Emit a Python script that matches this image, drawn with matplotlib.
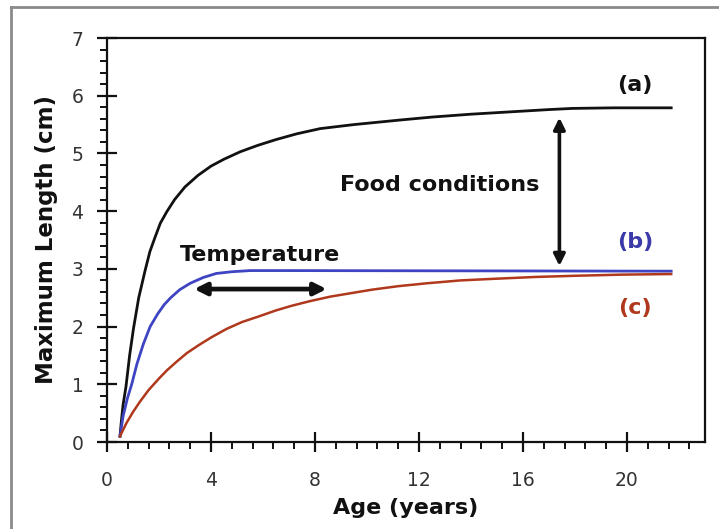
import matplotlib
matplotlib.use("Agg")
import matplotlib.pyplot as plt
from matplotlib.ticker import MultipleLocator
from matplotlib.lines import Line2D

plt.rcParams['font.family'] = ['DejaVu Sans']

# Data
age_a = [0.5, 0.55, 0.62, 0.73, 0.87, 1.02, 1.22, 1.47, 1.65, 1.85, 2.05, 2.3, 2.6, 3.0,
         3.5, 4.0, 4.5, 5.13, 5.8, 6.5, 7.3, 8.2, 9.5, 11.3, 12.5, 14.0, 15.5, 17.0, 17.9,
         19.5, 21.7]
len_a = [0.1, 0.35, 0.65, 0.96, 1.5, 1.97, 2.5, 2.98, 3.3, 3.55, 3.79, 3.99, 4.2, 4.42,
         4.62, 4.78, 4.9, 5.03, 5.14, 5.24, 5.34, 5.43, 5.5, 5.58, 5.63, 5.68, 5.72, 5.76, 5.78,
         5.79, 5.79]

age_b = [0.5, 0.62, 0.78, 0.95, 1.15, 1.4, 1.66, 1.95, 2.2, 2.45, 2.8, 3.2, 3.7, 4.2,
         4.8, 5.5, 7.0, 21.7]
len_b = [0.1, 0.45, 0.75, 1.0, 1.35, 1.7, 2.0, 2.22, 2.38, 2.5, 2.64, 2.75, 2.85, 2.92,
         2.95, 2.97, 2.97, 2.96]

age_c = [0.5, 0.75, 1.0, 1.27, 1.6, 2.0, 2.3, 2.7, 3.07, 3.5, 4.0, 4.6, 5.2, 5.8, 6.5,
         7.1, 7.8, 8.6, 9.4, 10.2, 11.2, 12.3, 13.6, 15.0, 16.5, 18.0, 19.8, 21.7]
len_c = [0.1, 0.33, 0.52, 0.7, 0.9, 1.1, 1.24, 1.4, 1.54, 1.67, 1.81, 1.96, 2.08, 2.17,
         2.28, 2.36, 2.44, 2.52, 2.58, 2.64, 2.7, 2.75, 2.8, 2.83, 2.86, 2.88, 2.9, 2.91]

x_ticks = [0, 4, 8, 12, 16, 20]
y_ticks = [0, 1, 2, 3, 4, 5, 6, 7]

BLACK = '#111111'
BLUE = '#3f44c2'
RED = '#b0381c'

fig = plt.figure(figsize=(7.19, 5.29), dpi=100)
fig.patch.set_facecolor('white')
ax = fig.add_axes([107/719, 1-442/529, (705-107)/719, (442-38)/529])

ax.plot(age_a, len_a, color=BLACK, lw=2.0, solid_joinstyle='round')
ax.plot(age_b, len_b, color=BLUE, lw=2.0, solid_joinstyle='round')
ax.plot(age_c, len_c, color=RED, lw=1.8, solid_joinstyle='round')

ax.set_xlim(0, 23)
ax.set_ylim(0, 7)
ax.set_xticks(x_ticks)
ax.set_yticks(y_ticks)
ax.xaxis.set_minor_locator(MultipleLocator(0.8))
ax.yaxis.set_minor_locator(MultipleLocator(0.2))
ax.tick_params(which='major', direction='inout', length=14, width=1.6,
               labelsize=13.5, labelcolor='#333333', color='#111111')
ax.tick_params(axis='y', which='major', pad=10)
ax.tick_params(axis='x', which='major', pad=14)
ax.tick_params(which='minor', direction='out', length=5, width=1.4, color='#111111')
for s in ax.spines.values():
    s.set_linewidth(1.6)
    s.set_color('#111111')

ax.set_xlabel('Age (years)', fontsize=16, fontweight='bold', color='#111111', labelpad=6)
ax.set_ylabel('Maximum Length (cm)', fontsize=16.5, fontweight='bold', color='#111111', labelpad=10)

# Annotations
ax.text(20.3, 6.19, '(a)', fontsize=16, fontweight='bold', color=BLACK, ha='center', va='center')
ax.text(20.3, 3.47, '(b)', fontsize=16, fontweight='bold', color='#3a3aa8', ha='center', va='center')
ax.text(20.3, 2.32, '(c)', fontsize=16, fontweight='bold', color=RED, ha='center', va='center')
ax.text(12.8, 4.45, 'Food conditions', fontsize=16, fontweight='bold', color=BLACK, ha='center', va='center')
ax.text(5.9, 3.24, 'Temperature', fontsize=16, fontweight='bold', color=BLACK, ha='center', va='center')

ax.annotate('', xy=(17.4, 5.62), xytext=(17.4, 3.05),
            arrowprops=dict(arrowstyle='<|-|>', color=BLACK, lw=2.6,
                            mutation_scale=17, shrinkA=0, shrinkB=0))
ax.annotate('', xy=(3.35, 2.65), xytext=(8.45, 2.65),
            arrowprops=dict(arrowstyle='<|-|>', color=BLACK, lw=3.4,
                            mutation_scale=18, shrinkA=0, shrinkB=0))

# outer gray frame
fig.add_artist(Line2D([11/719, 1.0], [1-7/529, 1-7/529], transform=fig.transFigure,
                      color='#8a8a8a', lw=2))
fig.add_artist(Line2D([11/719, 11/719], [0, 1-7/529], transform=fig.transFigure,
                      color='#8a8a8a', lw=2))

fig.savefig('out.png', dpi=100, facecolor='white')
